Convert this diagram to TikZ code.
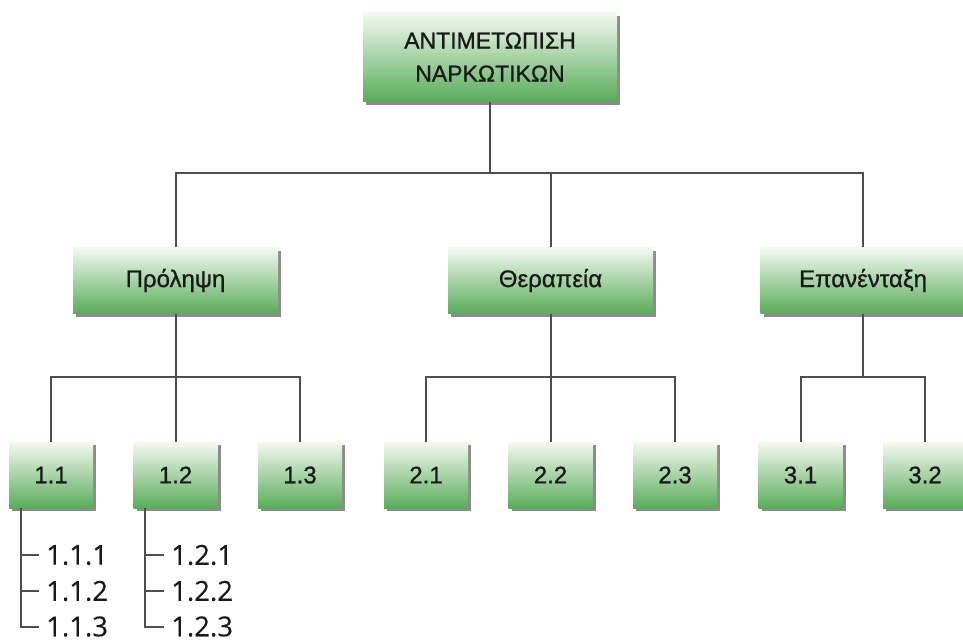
\documentclass[tikz,border=0pt]{standalone}
\usepackage{fontspec}
\setmainfont{Liberation Sans}
\newfontfamily\boxfont[FakeBold=0.9]{Liberation Sans}
\newfontfamily\subfont[FakeBold=0.3]{Open Sans}
\usetikzlibrary{shadows}
\definecolor{gtop}{RGB}{244,249,242}
\definecolor{gbot}{RGB}{90,172,90}
\definecolor{lnc}{RGB}{78,78,78}
\definecolor{txt}{RGB}{25,25,25}
\tikzset{
  gbox/.style={draw=none, top color=gtop, bottom color=gbot, text=txt, align=center, inner sep=0pt,
    drop shadow={shadow xshift=3pt, shadow yshift=-3pt, fill=black, opacity=0.45}},
  topbox/.style={gbox, minimum width=254pt, minimum height=89pt, font=\boxfont\fontsize{23}{33}\selectfont},
  midbox/.style={gbox, minimum width=205pt, minimum height=66pt, font=\boxfont\fontsize{24}{28}\selectfont},
  leafbox/.style={gbox, minimum width=84pt, minimum height=66pt, font=\boxfont\fontsize{24}{28}\selectfont},
  subitem/.style={anchor=west, inner sep=0pt, text=txt, font=\subfont\fontsize{27.5}{30}\selectfont},
  conn/.style={draw=lnc, line width=2pt},
}
\begin{document}
\begin{tikzpicture}[x=1pt,y=-1pt]
\useasboundingbox (0,0) rectangle (963,641);
\clip (0,0) rectangle (963,641);
\fill[white] (0,0) rectangle (963,641);

\coordinate (bus1) at (0,173);
\coordinate (bus2) at (0,377);

\node[topbox] (top) at (490,57) {ΑΝΤΙΜΕΤΩΠΙΣΗ\\ΝΑΡΚΩΤΙΚΩΝ};
\node[midbox] (pro) at (175.5,280.5) {Πρόληψη};
\node[midbox] (the) at (550.5,280.5) {Θεραπεία};
\node[midbox] (epa) at (863,280.5) {Επανένταξη};

\node[leafbox] (n11) at (51,475) {1.1};
\node[leafbox] (n12) at (175.5,475) {1.2};
\node[leafbox] (n13) at (300,475) {1.3};
\node[leafbox] (n21) at (426,475) {2.1};
\node[leafbox] (n22) at (550.5,475) {2.2};
\node[leafbox] (n23) at (675,475) {2.3};
\node[leafbox] (n31) at (800.5,475) {3.1};
\node[leafbox] (n32) at (925,475) {3.2};

\draw[conn] (top.south) -- (top.south |- bus1);
\draw[conn] (pro.north) -- (pro.north |- bus1) -| (epa.north);
\draw[conn] (the.north) -- (the.north |- bus1);

\draw[conn] (pro.south) -- (pro.south |- bus2);
\draw[conn] (n11.north) -- (n11.north |- bus2) -| (n13.north);
\draw[conn] (n12.north) -- (n12.north |- bus2);

\draw[conn] (the.south) -- (the.south |- bus2);
\draw[conn] (n21.north) -- (n21.north |- bus2) -| (n23.north);
\draw[conn] (n22.north) -- (n22.north |- bus2);

\draw[conn] (epa.south) -- (epa.south |- bus2);
\draw[conn] (n31.north) -- (n31.north |- bus2) -| (n32.north);

% sub items
\node[subitem] (s111) at (46,555) {1.1.1};
\node[subitem] (s112) at (46,591) {1.1.2};
\node[subitem] (s113) at (46,626.5) {1.1.3};
\node[subitem] (s121) at (171,555) {1.2.1};
\node[subitem] (s122) at (171,591) {1.2.2};
\node[subitem] (s123) at (171,626.5) {1.2.3};

\coordinate (a1) at ([xshift=12pt]n11.south west);
\coordinate (a2) at ([xshift=12pt]n12.south west);
\draw[conn] (a1) |- ([xshift=-7pt]s111.west);
\draw[conn] (a1) |- ([xshift=-7pt]s112.west);
\draw[conn] (a1) |- ([xshift=-7pt]s113.west);
\draw[conn] (a2) |- ([xshift=-7pt]s121.west);
\draw[conn] (a2) |- ([xshift=-7pt]s122.west);
\draw[conn] (a2) |- ([xshift=-7pt]s123.west);
\end{tikzpicture}
\end{document}
